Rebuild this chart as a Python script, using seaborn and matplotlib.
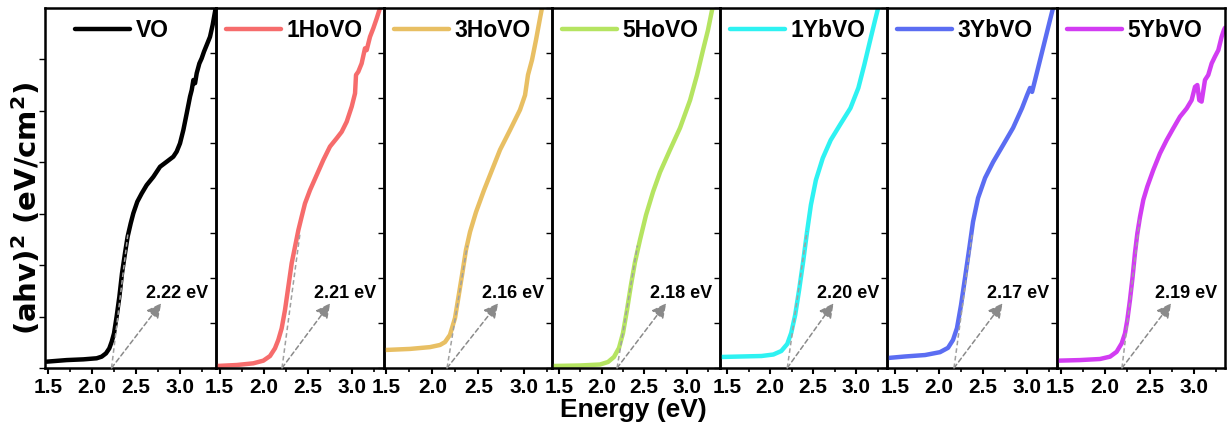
import numpy as np
import pandas as pd
import matplotlib
matplotlib.use("Agg")
import matplotlib.pyplot as plt
from matplotlib.ticker import MultipleLocator
import seaborn as sns

# ---- data -------------------------------------------------------------
samples = ["VO", "1HoVO", "3HoVO", "5HoVO", "1YbVO", "3YbVO", "5YbVO"]
colors = ["#000000", "#F66C6C", "#E8BF63", "#B5E461", "#2EF2F2", "#5B6DF2", "#D23CF2"]
band_gaps = [2.22, 2.21, 2.16, 2.18, 2.20, 2.17, 2.19]   # eV, tangent intercepts
gap_labels = ["2.22 eV", "2.21 eV", "2.16 eV", "2.18 eV", "2.20 eV", "2.17 eV", "2.19 eV"]

# Energy ranges of each panel (eV)
x_ranges = [(1.464, 3.407), (1.46, 3.369), (1.475, 3.301), (1.415, 3.391),
            (1.418, 3.360), (1.409, 3.340), (1.46, 3.348)]

# Tauc curves: photon energy (eV) and (ahv)^2 (a.u.)
E_vo = [1.483, 1.710, 1.900, 2.051, 2.108, 2.157, 2.195, 2.222, 2.248, 2.278, 2.309, 2.339,
        2.373, 2.403, 2.438, 2.468, 2.513, 2.563, 2.619, 2.695, 2.771, 2.847, 2.922, 2.960,
        2.998, 3.036, 3.074, 3.112, 3.131, 3.150, 3.169, 3.188, 3.218, 3.244, 3.271, 3.301,
        3.339, 3.369, 3.396, 3.41]
A_vo = [1.76, 2.2, 2.4, 2.7, 3.15, 4.07, 5.46, 7.3, 9.6, 14.3, 19.8, 26.3,
        31.9, 36.5, 40.2, 43.0, 46.2, 48.5, 50.8, 53.1, 55.9, 57.3, 58.7, 60.1,
        62.4, 66.1, 70.7, 75.4, 77.2, 80.0, 79.1, 81.9, 84.6, 86.0, 87.9, 89.7,
        92.0, 95.3, 99.0, 101]

E_1ho = [1.468, 1.695, 1.884, 1.998, 2.074, 2.130, 2.168, 2.206, 2.244, 2.282, 2.320, 2.358,
         2.396, 2.433, 2.471, 2.528, 2.604, 2.680, 2.755, 2.831, 2.888, 2.945, 3.002, 3.040,
         3.051, 3.077, 3.115, 3.153, 3.172, 3.210, 3.248, 3.286, 3.316, 3.33]
A_1ho = [0.56, 0.83, 1.3, 2.04, 3.33, 5.46, 7.8, 11.0, 16.1, 22.6, 29.1, 33.7,
         38.3, 42.0, 45.7, 49.4, 53.6, 57.8, 61.5, 63.8, 65.6, 68.4, 72.6, 76.3,
         81.4, 82.3, 84.6, 88.8, 88.3, 92.0, 94.4, 97.1, 99.4, 101]

E_3ho = [1.486, 1.758, 1.975, 2.084, 2.138, 2.192, 2.247, 2.279, 2.323, 2.366, 2.41, 2.475,
         2.562, 2.649, 2.736, 2.845, 2.953, 3.008, 3.04, 3.084, 3.127, 3.171, 3.192, 3.20]
A_3ho = [5.0, 5.3, 5.8, 6.4, 7.2, 9.2, 13.9, 18.9, 25.8, 32.8, 37.8, 43.3,
         49.4, 55.0, 60.6, 66.1, 71.7, 75.8, 81.4, 85.6, 91.1, 97.2, 100, 101]

E_5ho = [1.427, 1.744, 1.98, 2.074, 2.144, 2.203, 2.25, 2.297, 2.344, 2.391, 2.45, 2.521,
         2.603, 2.686, 2.803, 2.921, 3.039, 3.121, 3.191, 3.25, 3.297, 3.309]
A_5ho = [0.56, 0.7, 0.97, 1.67, 3.06, 5.56, 9.7, 16.1, 23.1, 29.4, 35.6, 42.5,
         48.9, 54.4, 60.6, 66.7, 74.4, 81.4, 88.3, 93.9, 99.4, 100.6]

E_1yb = [1.43, 1.671, 1.901, 2.039, 2.131, 2.2, 2.246, 2.292, 2.338, 2.384, 2.43, 2.475,
         2.533, 2.613, 2.705, 2.82, 2.935, 3.027, 3.096, 3.165, 3.222, 3.257, 3.27]
A_1yb = [3.06, 3.2, 3.33, 3.75, 4.72, 6.67, 9.72, 14.7, 21.7, 29.4, 37.8, 45.3,
         52.2, 58.3, 63.3, 67.8, 72.2, 77.8, 84.2, 91.1, 96.7, 100, 101]

E_3yb = [1.42, 1.614, 1.841, 2.011, 2.102, 2.159, 2.204, 2.25, 2.295, 2.341, 2.386, 2.443,
         2.523, 2.614, 2.727, 2.841, 2.943, 3.0, 3.034, 3.057, 3.091, 3.148, 3.204, 3.261,
         3.295, 3.31]
A_3yb = [2.78, 3.2, 3.6, 4.4, 5.6, 7.8, 11.1, 17.5, 25.0, 32.8, 40.6, 47.2,
         52.8, 57.2, 61.9, 66.7, 72.2, 75.8, 77.8, 76.7, 80.0, 85.6, 91.1, 96.7,
         100, 101]

E_5yb = [1.475, 1.718, 1.943, 2.056, 2.130, 2.187, 2.224, 2.250, 2.280, 2.310, 2.336, 2.363,
         2.393, 2.430, 2.475, 2.542, 2.617, 2.692, 2.767, 2.842, 2.917, 2.973, 3.011, 3.037,
         3.059, 3.085, 3.123, 3.160, 3.198, 3.235, 3.273, 3.310, 3.336, 3.348]
A_5yb = [2.04, 2.2, 2.5, 3.15, 4.5, 6.85, 9.6, 13.3, 18.9, 25.4, 31.9, 37.4,
         42.0, 46.7, 50.4, 55.0, 59.6, 63.3, 66.6, 69.8, 72.1, 74.4, 78.1, 78.6,
         74.4, 74.0, 80.0, 81.4, 84.6, 86.5, 88.3, 92.0, 93.9, 94.5]

energies = [E_vo, E_1ho, E_3ho, E_5ho, E_1yb, E_3yb, E_5yb]
absorb = [A_vo, A_1ho, A_3ho, A_5ho, A_1yb, A_3yb, A_5yb]

# upper end of each linear fit (eV, a.u.)
fit_top_E = [2.407, 2.415, 2.38, 2.42, 2.43, 2.375, 2.393]
fit_top_A = [37.5, 37.5, 34, 34, 38, 37, 42]

# y tick spacing per panel
y_tick_step = [14.3, 12.5, 12.5, 12.5, 12.5, 12.5, 12.5]

# ---- style ------------------------------------------------------------
sns.set_theme(style="ticks")
plt.rcParams["font.family"] = ["Liberation Sans", "DejaVu Sans"]
plt.rcParams["font.weight"] = "bold"
plt.rcParams["text.color"] = "black"
plt.rcParams["axes.labelcolor"] = "black"
plt.rcParams["xtick.color"] = "black"
plt.rcParams["ytick.color"] = "black"
plt.rcParams["mathtext.fontset"] = "custom"
plt.rcParams["mathtext.rm"] = "DejaVu Sans:bold"
plt.rcParams["mathtext.it"] = "DejaVu Sans:bold"
plt.rcParams["mathtext.bf"] = "DejaVu Sans:bold"

W, H = 1231, 432
fig = plt.figure(figsize=(W / 100, H / 100), dpi=100)

edges = [45, 216, 384, 552, 720, 887, 1057, 1225]
top_px, bot_px = 8, 368

for i, name in enumerate(samples):
    x0, x1 = edges[i], edges[i + 1]
    ax = fig.add_axes([x0 / W, 1 - bot_px / H, (x1 - x0) / W, (bot_px - top_px) / H])
    df = pd.DataFrame({"E": energies[i], "A": absorb[i]})
    sns.lineplot(data=df, x="E", y="A", ax=ax, color=colors[i], lw=3.2,
                 sort=False, estimator=None, label=name)
    ax.set_xlim(*x_ranges[i])
    ax.set_ylim(0, 100)

    # linear fit extrapolated to the energy axis
    eg = band_gaps[i]
    ax.plot([eg, fit_top_E[i]], [0, fit_top_A[i]], ls=(0, (3, 2)), color="#a0a0a0",
            lw=1.1, zorder=5)
    ax.annotate("", xy=(0.68, 0.18), xycoords="axes fraction",
                xytext=(eg, 0), textcoords="data",
                arrowprops=dict(arrowstyle="-|>", ls=(0, (3, 2)), color="#8a8a8a",
                                lw=1.1, mutation_scale=22, shrinkA=0, shrinkB=0))
    ax.text(0.955, 0.208, gap_labels[i], transform=ax.transAxes, ha="right", va="center",
            fontsize=13, fontweight="bold", color="black")

    # axes styling
    ax.set_xlabel("")
    ax.set_ylabel("")
    ax.set_xticks([1.5, 2.0, 2.5, 3.0])
    ax.xaxis.set_minor_locator(MultipleLocator(0.25))
    ax.yaxis.set_major_locator(MultipleLocator(y_tick_step[i]))
    ax.tick_params(axis="x", which="major", direction="out", length=4, width=1.5,
                   labelsize=15, pad=3, colors="black")
    ax.tick_params(axis="x", which="minor", direction="out", length=3, width=1.2)
    ax.tick_params(axis="y", which="major", direction="out", length=4, width=1.0,
                   labelleft=False)
    for lab in ax.get_xticklabels():
        lab.set_fontweight("bold")
    for sp in ax.spines.values():
        sp.set_visible(True)
        sp.set_linewidth(1.8)
        sp.set_color("black")
    ax.patch.set_alpha(0)

    leg_x = 0.11 if i == 0 else -0.01
    leg = ax.legend(loc="upper left", bbox_to_anchor=(leg_x, 1.0), frameon=False,
                    handlelength=2.4, handletextpad=0.25, borderaxespad=0.1,
                    prop={"weight": "bold", "size": 16.5})
    for h in leg.get_lines():
        h.set_linewidth(3.2)

fig.text(633 / W, 1 - 410 / H, "Energy (eV)", ha="center", va="center",
         fontsize=19, fontweight="bold")
fig.text(27 / W, 1 - 208 / H, r"(ahv)$^{2}$ (eV/cm$^{2}$)", rotation=90,
         ha="center", va="center", fontsize=21, fontweight="bold",
         family=["DejaVu Sans"])

fig.savefig("out.png", dpi=100)
